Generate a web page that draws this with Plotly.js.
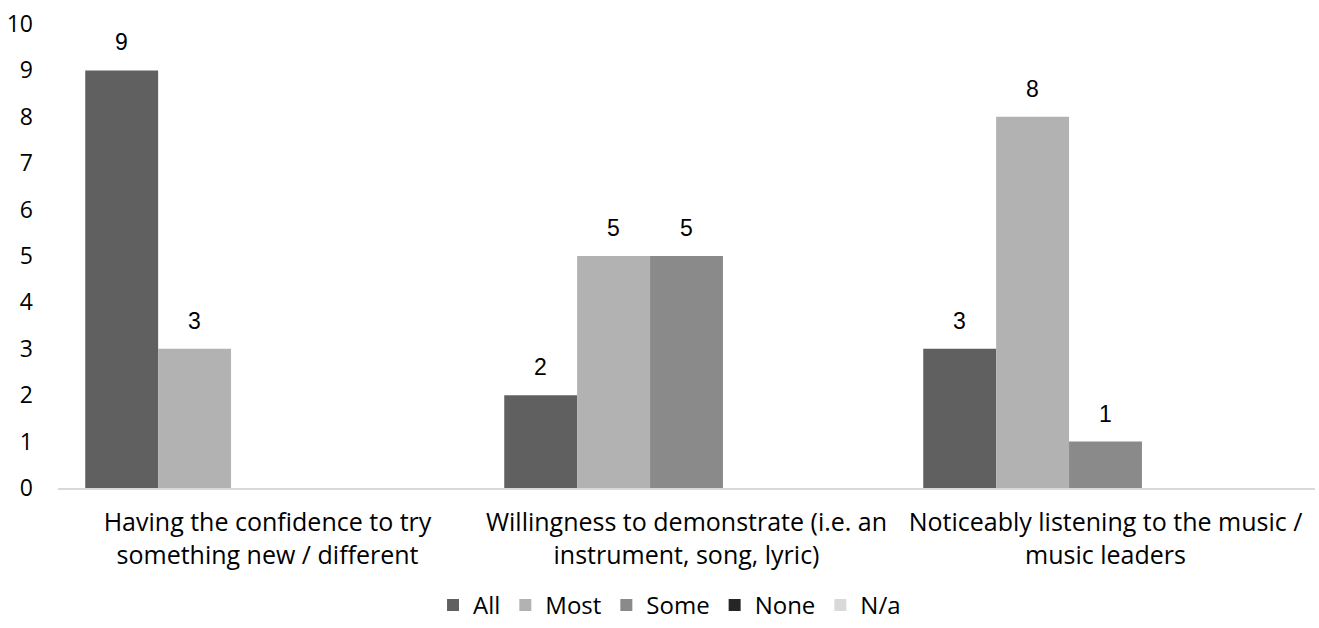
<!DOCTYPE html>
<html>
<head>
<meta charset="utf-8">
<script src="https://cdn.plot.ly/plotly-3.0.1.min.js"></script>
<style>html,body{margin:0;padding:0;background:#fff;}#chart{width:1319px;height:628px;}</style>
</head>
<body>
<div id="chart"></div>
<script>
const categories = [
  "Having the confidence to try<br>something new / different",
  "Willingness to demonstrate (i.e. an<br>instrument, song, lyric)",
  "Noticeably listening to the music /<br>music leaders"
];
const seriesNames = ["All", "Most", "Some", "None", "N/a"];
const allVals = [9, 2, 3];
const mostVals = [3, 5, 8];
const someVals = [null, 5, 1];
const noneVals = [null, null, null];
const naVals = [null, null, null];
const colors = ["#606060", "#b2b2b2", "#8a8a8a", "#262626", "#d9d9d9"];
const yTicks = [0,1,2,3,4,5,6,7,8,9,10];

const bargap = 0.13;
const seriesVals = [allVals, mostVals, someVals, noneVals, naVals];
const nSeries = seriesVals.length;
const barW = (1 - bargap) / nSeries;

const traces = seriesVals.map((vals, i) => ({
  type: "bar",
  name: seriesNames[i],
  x: categories,
  y: vals.map(v => v === null ? 0 : v),
  marker: {color: colors[i]},
  hoverinfo: "skip"
}));

// data labels placed above each bar, derived from the series arrays
const annotations = [];
seriesVals.forEach((vals, i) => {
  vals.forEach((v, c) => {
    if (v === null) return;
    annotations.push({
      xref: "x", yref: "y",
      x: c + (i - (nSeries - 1) / 2) * barW,
      y: v,
      text: String(v),
      showarrow: false,
      xanchor: "center", yanchor: "bottom",
      yshift: 13,
      font: {family: "Liberation Sans, Arial, sans-serif", size: 23, color: "#000"}
    });
  });
});

const layout = {
  width: 1319, height: 628,
  margin: {l: 58, r: 4, t: 24, b: 140, autoexpand: false},
  paper_bgcolor: "#fff", plot_bgcolor: "#fff",
  barmode: "group",
  bargap: bargap, bargroupgap: 0,
  font: {family: "Open Sans, sans-serif", size: 24, color: "#000"},
  xaxis: {
    showgrid: false, showline: true, linecolor: "#d9d9d9", linewidth: 2,
    ticks: "", tickfont: {size: 25, color: "#000"}, ticklabelstandoff: 11,
    zeroline: false, automargin: false
  },
  yaxis: {
    range: [0, 10], tickvals: yTicks, showgrid: false, showline: false, zeroline: false,
    ticks: "", tickfont: {size: 23, color: "#000"}, ticklabelstandoff: 24, automargin: false
  },
  legend: {
    orientation: "h", x: 0.4865, xanchor: "center", y: -0.253, yanchor: "middle",
    font: {size: 24, color: "#000"}, itemwidth: 30, traceorder: "normal"
  },
  annotations: annotations,
  showlegend: true
};

Plotly.newPlot("chart", traces, layout, {displayModeBar: false, staticPlot: true});
</script>
</body>
</html>
